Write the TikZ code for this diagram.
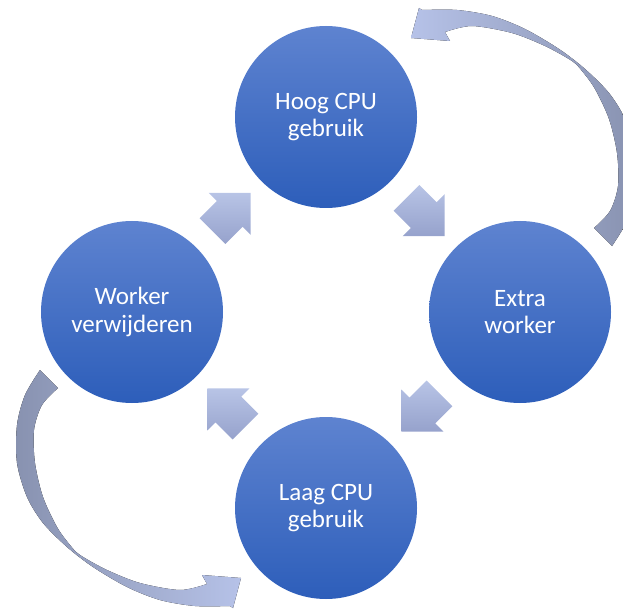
\documentclass[tikz,border=0pt]{standalone}
\usepackage{fontspec}
\setmainfont{Carlito}
\usetikzlibrary{shapes.arrows,calc}

\definecolor{circtop}{RGB}{94,131,208}
\definecolor{circbot}{RGB}{45,94,186}
\definecolor{arrowlight}{RGB}{184,196,230}
\definecolor{arrowdark}{RGB}{150,162,204}
\definecolor{loopdark}{RGB}{136,146,176}
\definecolor{looplight}{RGB}{182,194,232}

\begin{document}
\begin{tikzpicture}[x=1pt, y=-1pt,
	state/.style={circle, minimum size=182pt, inner sep=0pt, top color=circtop, bottom color=circbot, text=white, align=center, font=\fontsize{25}{27.5}\selectfont},
	smallarrow/.style={single arrow, minimum height=54pt, inner xsep=0pt, inner ysep=18pt, single arrow head extend=11.5pt, single arrow tip angle=90, top color=arrowlight, bottom color=arrowdark},
	looparrow/.style={left color=loopdark, right color=looplight}]
			\useasboundingbox (0,0) rectangle (623,612);
			
			\node[state] (hoog) at (326,117){Hoog CPU\\gebruik};
			\node[state] (extra) at (520,312){Extra\\worker};
			\node[state] (laag) at (326,508){Laag CPU\\gebruik};
			\node[state] (verw) at (132,312){Worker\\verwijderen};
			
			\node[smallarrow, rotate=45] (p1) at ($(verw)!.48!(hoog)$){};
			\node[smallarrow, rotate=-45] (p2) at ($(hoog)!.48!(extra)$){};
			\node[smallarrow, rotate=-135] (p3) at ($(extra)!.48!(laag)$){};
			\node[smallarrow, rotate=135] (p4) at ($(laag)!.48!(verw)$){};
			
			% grote gebogen pijlen
			\def\lus{plot[smooth] coordinates {(40,370) (25,395) (17,425) (17,463) (27,497) (43,523) (67,547) (93,567) (127,587) (160,600) (195,606) (230,606)}
				-- (233,608) -- (241,578) -- (202,575)
				-- plot[smooth] coordinates {(207,584) (180,590) (140,583) (107,570) (80,555) (70,545) (57,527) (43,497) (35,463) (34,430) (42,405) (58,388)} -- cycle}
			\fill[looparrow] \lus;
			\begin{scope}[rotate around={180:(326,308)}]
				\fill[looparrow, left color=looplight, right color=loopdark] \lus;
			\end{scope}
			\end{tikzpicture}
\end{document}
